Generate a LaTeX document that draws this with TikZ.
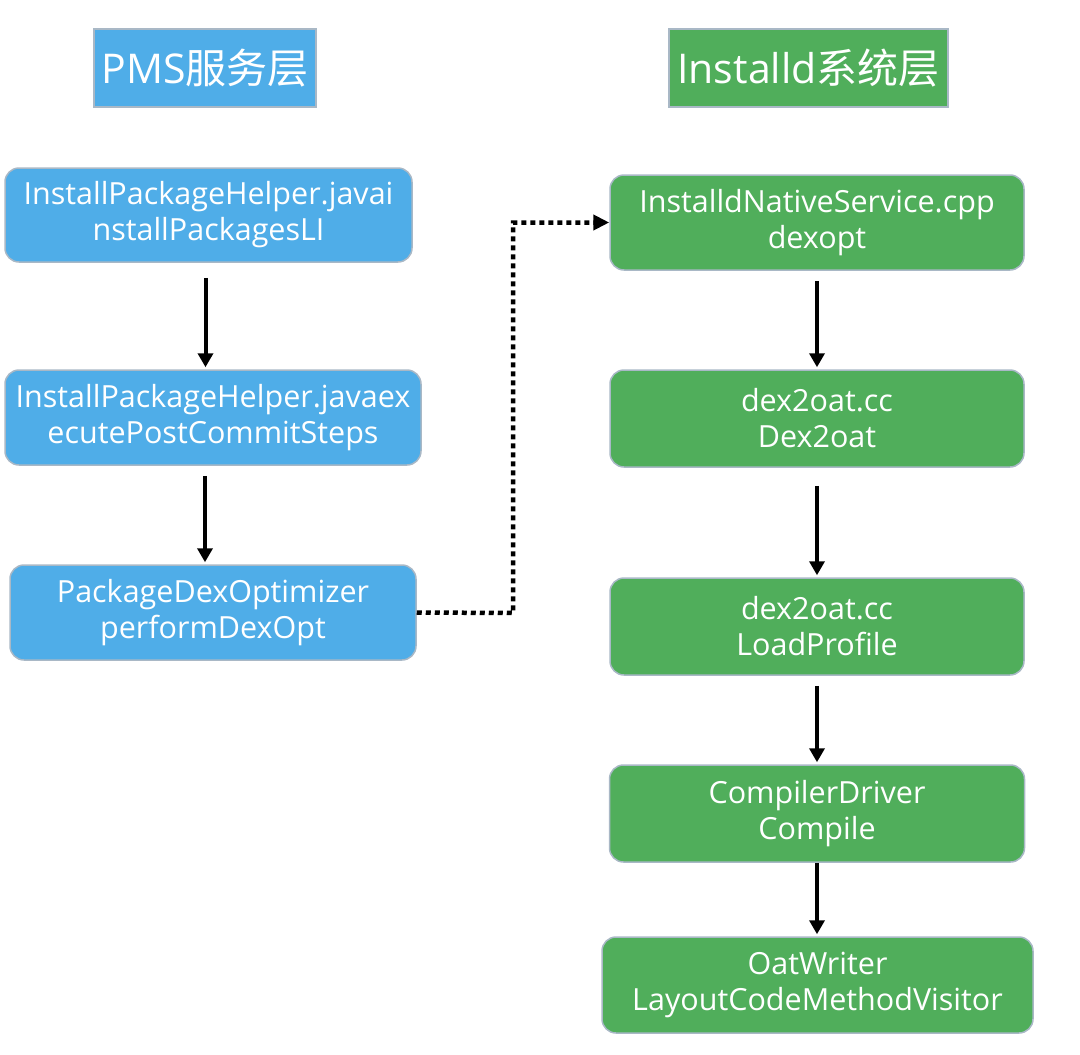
\documentclass[tikz,border=0pt]{standalone}
\usepackage{fontspec}
\setmainfont{Open Sans}
\newfontfamily\cjk{Noto Sans CJK SC}
\usetikzlibrary{arrows.meta}
\definecolor{pblue}{HTML}{4FADE8}
\definecolor{pgreen}{HTML}{50AE5B}
\definecolor{pedge}{HTML}{A9B8C6}
\tikzset{
  box/.style={draw=pedge, line width=1.5pt, rounded corners=14pt, text=white, align=center,
    font=\fontsize{30.5}{36}\selectfont, inner sep=0pt},
  lbox/.style={box, fill=pblue},
  gbox/.style={box, fill=pgreen},
  title/.style={draw=pedge, line width=1.5pt, text=white, font=\fontsize{41}{50}\selectfont, inner sep=0pt},
  arr/.style={line width=4pt, -{Triangle[length=14pt,width=15pt]}},
  dots/.style={line width=4.5pt, dash pattern=on 5pt off 4pt, -{Triangle[length=16pt,width=15pt]}}
}
\begin{document}
\begin{tikzpicture}[x=1pt,y=-1pt]
\useasboundingbox (0,0) rectangle (1080,1055);
\node[title, fill=pblue, minimum width=222pt, minimum height=78pt] (T1) at (205,68) {PMS\cjk 服务层};
\node[title, fill=pgreen, minimum width=279pt, minimum height=78pt] (T2) at (808.5,68) {Installd\cjk 系统层};

\node[lbox, minimum width=407pt, minimum height=94pt] (B1) at (208.5,215) {InstallPackageHelper.javai\\nstallPackagesLI};
\node[lbox, minimum width=416pt, minimum height=95pt] (B2) at (213,417.5) {InstallPackageHelper.javaex\\ecutePostCommitSteps};
\node[lbox, minimum width=406pt, minimum height=95pt] (B3) at (213,612.5) {PackageDexOptimizer\\performDexOpt};

\node[gbox, minimum width=414pt, minimum height=95pt] (G1) at (817,222.5) {InstalldNativeService.cpp\\dexopt};
\node[gbox, minimum width=414pt, minimum height=97pt] (G2) at (817,418.5) {dex2oat.cc\\Dex2oat};
\node[gbox, minimum width=414pt, minimum height=97pt] (G3) at (817,626.5) {dex2oat.cc\\LoadProfile};
\node[gbox, minimum width=415pt, minimum height=97pt] (G4) at (817,813.5) {CompilerDriver\\Compile};
\node[gbox, minimum width=431pt, minimum height=96pt] (G5) at (817.5,985) {OatWriter\\LayoutCodeMethodVisitor};

\draw[arr] ([xshift=-3pt,yshift=-15pt]B1.south) -- ([xshift=-3pt,yshift=2pt]B1.south |- B2.north);
\draw[arr] ([xshift=-8pt,yshift=-10pt]B2.south) -- ([xshift=-8pt,yshift=2pt]B2.south |- B3.north);
\draw[arr] ([yshift=-10pt]G1.south) -- ([yshift=2pt]G1.south |- G2.north);
\draw[arr] ([yshift=-18pt]G2.south) -- ([yshift=2pt]G2.south |- G3.north);
\draw[arr] ([yshift=-10pt]G3.south) -- ([yshift=2pt]G3.south |- G4.north);
\draw[arr] (G4.south) -- ([yshift=2pt]G4.south |- G5.north);

\coordinate (K) at (513,613);
\draw[dots] (B3.east) -- (K) |- (G1.west);
\end{tikzpicture}
\end{document}
